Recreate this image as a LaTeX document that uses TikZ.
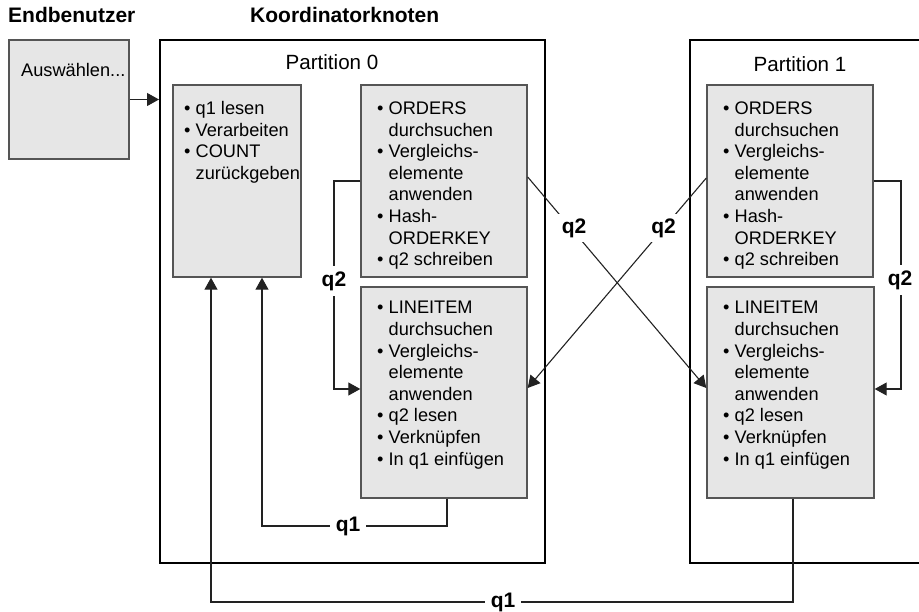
\documentclass[tikz,border=0pt]{standalone}
\usepackage{fontspec}
\setmainfont{Liberation Sans}
\usetikzlibrary{arrows.meta}
\definecolor{boxgray}{HTML}{E6E6E6}
\definecolor{boxline}{HTML}{555555}
\definecolor{conn}{HTML}{222222}
\newcommand{\bl}{\makebox[11.5pt][l]{•}}
\newcommand{\ind}{\hspace*{11.5pt}}
\begin{document}
\begin{tikzpicture}[x=1pt,y=-1pt,
  graybox/.style={draw=boxline,line width=1.4pt,fill=boxgray,rectangle,inner sep=0pt},
  partbox/.style={draw=black,line width=2pt,rectangle,inner sep=0pt},
  body/.style={anchor=base west,inner sep=0pt,font=\fontsize{18.2}{21.6}\selectfont},
  ptitle/.style={anchor=base,inner sep=0pt,font=\fontsize{20.6}{24}\selectfont},
  head/.style={anchor=base west,inner sep=0pt,font=\fontsize{21}{25}\selectfont\bfseries},
  lbl/.style={fill=white,inner xsep=6pt,inner ysep=5pt,font=\fontsize{21}{25}\selectfont\bfseries},
  arr/.style={draw=conn,line width=1.1pt,-{Triangle[length=12pt,width=13pt]}},
  ln/.style={draw=conn,line width=1.1pt}]
\useasboundingbox (0,0) rectangle (919,612);
\clip (0,0) rectangle (919,612);

% headings
\node[head] (hEnd) at (8,23) {Endbenutzer};
\node[head] (hKoo) at (250,23) {Koordinatorknoten};

% containers
\node[partbox,minimum width=385pt,minimum height=523pt] (p0) at (352.5,301.5) {};
\node[partbox,minimum width=240pt,minimum height=523pt] (p1) at (810,301.5) {};
\node[ptitle] (tp0) at (332,69.5) {Partition 0};
\node[ptitle] (tp1) at (800,72) {Partition 1};

% boxes
\node[graybox,minimum width=120pt,minimum height=119pt] (user) at (69,99.5) {};
\node[graybox,minimum width=128pt,minimum height=192pt] (lq) at (237,181) {};
\node[graybox,minimum width=166pt,minimum height=192pt] (ord0) at (444,181) {};
\node[graybox,minimum width=166pt,minimum height=211pt] (li0) at (444,392.5) {};
\node[graybox,minimum width=166pt,minimum height=192pt] (ord1) at (790,181) {};
\node[graybox,minimum width=167pt,minimum height=211pt] (li1) at (790.5,392.5) {};

% texts
\node[body] (tuser) at (21,77) {Auswählen...};
\node[body] (tlq) at (184,114.5) {\begin{tabular}[t]{@{}l@{}}\bl q1 lesen\\ \bl Verarbeiten\\ \bl COUNT\\ \ind zurückgeben\end{tabular}};
\node[body] (tord0) at (377,114.5) {\begin{tabular}[t]{@{}l@{}}\bl ORDERS\\ \ind durchsuchen\\ \bl Vergleichs-\\ \ind elemente\\ \ind anwenden\\ \bl Hash-\\ \ind ORDERKEY\\ \bl q2 schreiben\end{tabular}};
\node[body] (tli0) at (377,314) {\begin{tabular}[t]{@{}l@{}}\bl LINEITEM\\ \ind durchsuchen\\ \bl Vergleichs-\\ \ind elemente\\ \ind anwenden\\ \bl q2 lesen\\ \bl Verknüpfen\\ \bl In q1 einfügen\end{tabular}};
\node[body] (tord1) at (723,114.5) {\begin{tabular}[t]{@{}l@{}}\bl ORDERS\\ \ind durchsuchen\\ \bl Vergleichs-\\ \ind elemente\\ \ind anwenden\\ \bl Hash-\\ \ind ORDERKEY\\ \bl q2 schreiben\end{tabular}};
\node[body] (tli1) at (723,314) {\begin{tabular}[t]{@{}l@{}}\bl LINEITEM\\ \ind durchsuchen\\ \bl Vergleichs-\\ \ind elemente\\ \ind anwenden\\ \bl q2 lesen\\ \bl Verknüpfen\\ \bl In q1 einfügen\end{tabular}};

% connectors
\draw[arr] (user.east) -- (user.east -| p0.west);
\draw[arr] (ord0.west) -- (334,181) |- (li0.west |- 0,389);
\draw[arr] (ord1.east) -- (901,181) |- (li1.east |- 0,389);
\draw[arr] (ord0.east |- 0,177) -- (li1.west |- 0,388);
\draw[arr] (ord1.west |- 0,178) -- (li0.east |- 0,388);
\draw[arr] (li0.south -| 447,0) -- (447,526) -| (lq.south -| 262,0);
\draw[arr] (li1.south -| 793,0) -- (793,602) -| (lq.south -| 211,0);

% labels
\node[lbl] (lq2a) at (334,281) {q2};
\node[lbl] (lq2b) at (900,280) {q2};
\node[lbl,inner sep=4pt] (lq2c) at (574,228) {q2};
\node[lbl,inner sep=4pt] (lq2d) at (663.5,228) {q2};
\node[lbl] (lq1a) at (348,526) {q1};
\node[lbl] (lq1b) at (503,602) {q1};
\end{tikzpicture}
\end{document}
